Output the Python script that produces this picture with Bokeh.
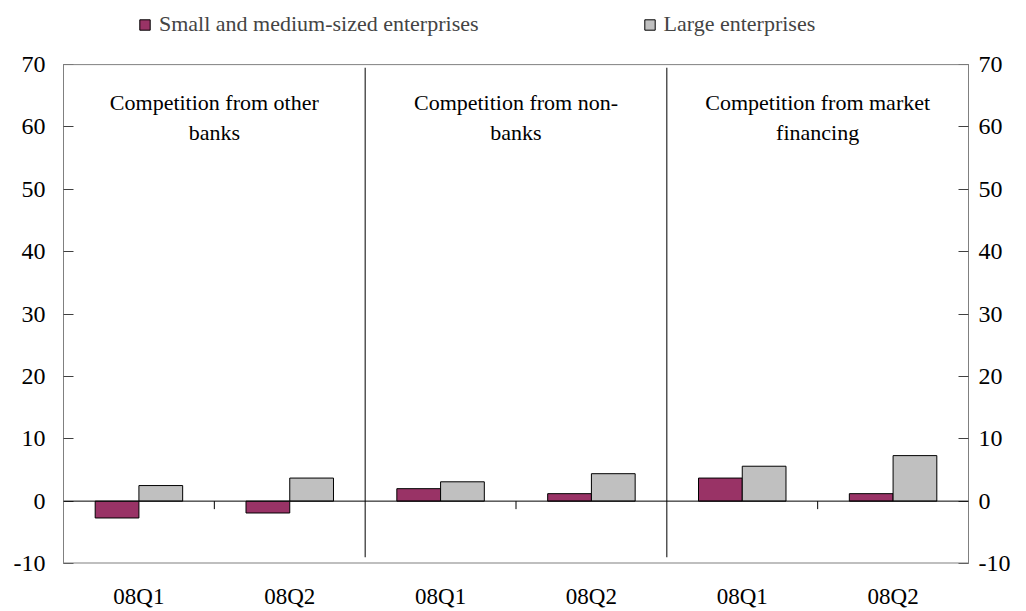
from math import pi

from bokeh.core.properties import value
from bokeh.embed import file_html
from bokeh.models import (ColumnDataSource, FixedTicker, Legend, LegendItem,
                          LinearAxis, Range1d, Span)
from bokeh.plotting import figure
from bokeh.resources import INLINE
from bokeh.transform import dodge

# data
panels = ["Competition from other\nbanks",
          "Competition from non-\nbanks",
          "Competition from market\nfinancing"]
quarters = ["08Q1", "08Q2", "08Q1", "08Q2", "08Q1", "08Q2"]
sme = [-2.7, -1.9, 2.0, 1.2, 3.7, 1.2]
large = [2.5, 3.7, 3.1, 4.4, 5.6, 7.3]
y_ticks = [-10, 0, 10, 20, 30, 40, 50, 60, 70]

FONT = "Liberation Serif"
SME_COLOR = "#993366"
LARGE_COLOR = "#C0C0C0"
AXIS_GREY = "#808080"

y_lo, y_hi = y_ticks[0], y_ticks[-1]

xs = [i + 0.5 for i in range(len(quarters))]
src = ColumnDataSource(dict(x=xs, sme=sme, large=large))

per_panel = len(quarters) // len(panels)
panel_mid = [per_panel * i + per_panel / 2 for i in range(len(panels))]
panel_edge = [per_panel * (i + 1) for i in range(len(panels) - 1)]

# the frame runs up above 70 so the legend can sit inside it
p = figure(width=1026, height=611, output_backend="svg", toolbar_location=None,
           x_range=Range1d(0, len(quarters)),
           y_range=Range1d(y_lo, y_hi + 9),
           x_axis_location=None,
           min_border_left=63, min_border_right=58,
           min_border_top=8, min_border_bottom=47)
p.xgrid.visible = False
p.ygrid.visible = False
p.outline_line_color = None

p.add_layout(LinearAxis(), "right")
for ax in p.yaxis:
    ax.ticker = FixedTicker(ticks=y_ticks)
    ax.major_label_overrides = {t: str(t) for t in y_ticks}  # plain hyphen for -10
    ax.bounds = (y_lo, y_hi)
    ax.major_tick_in = 10
    ax.major_tick_out = 0
    ax.minor_tick_line_color = None
    ax.axis_line_color = AXIS_GREY
    ax.major_tick_line_color = "#404040"
    ax.major_label_text_font = FONT
    ax.major_label_text_font_size = "24px"
    ax.major_label_text_color = "black"
p.yaxis[0].major_label_standoff = 18
p.yaxis[1].major_label_standoff = 10

xax = LinearAxis(ticker=FixedTicker(ticks=xs),
                 major_label_overrides={x: q for x, q in zip(xs, quarters)})
xax.axis_line_color = None
xax.major_tick_line_color = None
xax.minor_tick_line_color = None
xax.major_tick_in = 0
xax.major_tick_out = 0
xax.major_label_standoff = 20
xax.major_label_text_font = FONT
xax.major_label_text_font_size = "23px"
xax.major_label_text_color = "black"
p.add_layout(xax, "below")

# frame top/bottom, zero line, panel separators, small ticks between quarters
p.add_layout(Span(location=y_hi, dimension="width", line_color=AXIS_GREY, line_width=1))
p.add_layout(Span(location=y_lo, dimension="width", line_color=AXIS_GREY, line_width=2))
p.add_layout(Span(location=0, dimension="width", line_color="black", line_width=1))
p.segment(x0=panel_edge, x1=panel_edge,
          y0=[y_hi - 0.5] * len(panel_edge),
          y1=[y_lo + 1] * len(panel_edge),
          line_color="black", line_width=1)
p.ray(x=panel_mid, y=[0] * len(panel_mid), length=8, length_units="screen",
      angle=-pi / 2, line_color="black", line_width=1)

r1 = p.vbar(x=dodge("x", -0.145), top="sme", width=0.29, source=src,
            fill_color=SME_COLOR, line_color="black", line_width=1)
r2 = p.vbar(x=dodge("x", 0.145), top="large", width=0.29, source=src,
            fill_color=LARGE_COLOR, line_color="black", line_width=1)

p.text(x=panel_mid, y=[y_hi] * len(panels), text=panels,
       text_font=value(FONT), text_font_size="22px", text_color="black",
       text_align="center", text_baseline="top", text_line_height=1.2,
       y_offset=25)

legend = Legend(items=[LegendItem(label="Small and medium-sized enterprises", renderers=[r1]),
                       LegendItem(label="Large enterprises", renderers=[r2])],
                orientation="horizontal", location=(75, 526),
                glyph_width=13, glyph_height=13, label_standoff=8, spacing=164,
                padding=0, margin=0, border_line_color=None,
                background_fill_alpha=0,
                label_text_font=FONT, label_text_font_size="22px")
p.add_layout(legend)

open("out.html", "w").write(file_html(p, INLINE))
